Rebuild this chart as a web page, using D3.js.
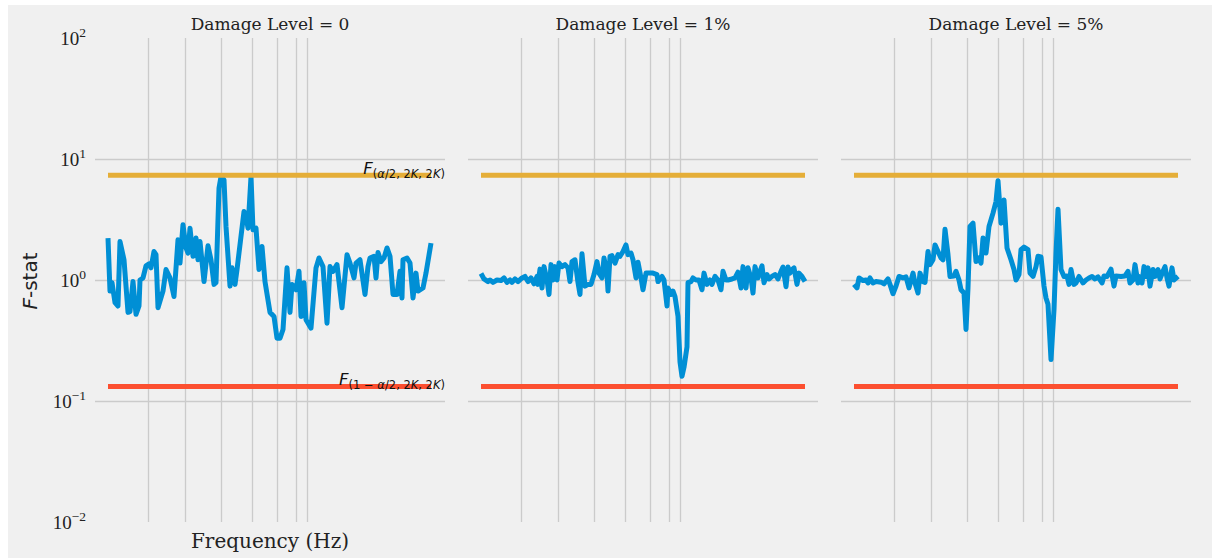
<!DOCTYPE html>
<html>
<head>
<meta charset="utf-8">
<script src="https://cdn.jsdelivr.net/npm/d3@7"></script>
<style>
  body { margin: 0; background: #ffffff; }
  .grid line { stroke: #cbcbcb; stroke-width: 1.3; }
  .grid path { display: none; }
</style>
</head>
<body>
<script>
// panel titles
const panelTitles = ["Damage Level = 0", "Damage Level = 1%", "Damage Level = 5%"];

// [frequency (Hz), F-stat]
const damage0 = [[0,2.22],[2,0.81],[4,0.95],[7,0.65],[10,0.61],[12,2.08],[16,1.47],[20,0.54],[22,0.55],[25,0.97],[28,0.52],[31,0.61],[32,1.0],[35,1.04],[38,1.31],[41,1.36],[43,1.26],[46,1.72],[48,1.62],[50,0.59],[55,0.81],[58,1.22],[62,1.04],[66,0.73],[70,2.15],[72,1.38],[75,2.86],[78,1.84],[80,1.67],[82,2.68],[85,1.57],[88,2.22],[90,1.47],[92,2.08],[96,0.97],[100,1.92],[103,1.47],[106,0.92],[108,0.95],[111,5.73],[113,7.15],[116,6.71],[118,2.77],[122,0.89],[124,1.26],[127,0.92],[129,1.22],[136,3.68],[138,3.34],[140,2.68],[143,7.15],[145,2.6],[148,2.68],[151,1.22],[154,1.89],[157,0.97],[162,0.54],[166,0.5],[169,0.33],[172,0.33],[175,0.39],[179,1.26],[182,0.54],[184,0.92],[188,0.83],[191,1.18],[193,0.5],[196,0.95],[198,0.47],[203,0.4],[208,1.26],[211,1.52],[215,1.29],[219,0.44],[222,1.29],[225,1.18],[229,1.34],[234,0.59],[239,1.62],[242,1.38],[246,1.04],[248,1.38],[252,1.47],[257,0.76],[260,1.29],[262,1.52],[266,1.57],[268,1.04],[270,1.69],[273,1.42],[276,1.52],[279,1.84],[282,1.57],[285,0.76],[289,0.76],[292,1.18],[294,0.71],[295,1.47],[299,1.52],[302,1.38],[305,0.71],[308,1.14],[310,0.81],[315,0.86],[318,1.14],[323,2.02]];

const damage1 = [[0,1.13],[3,1.02],[7,0.97],[9,1.0],[12,0.955],[16,1.0],[20,0.99],[23,1.04],[26,0.955],[29,1.0],[31,0.955],[34,1.02],[37,0.97],[41,1.04],[44,1.07],[47,0.97],[50,1.04],[53,0.93],[56,1.07],[57,0.92],[59,1.23],[61,0.86],[63,1.29],[66,1.0],[68,0.76],[70,1.34],[72,1.0],[74,1.29],[76,1.0],[78,1.38],[81,1.29],[84,1.34],[87,1.26],[89,0.97],[91,1.42],[94,1.47],[97,0.95],[99,0.76],[101,1.65],[104,0.89],[107,0.92],[110,0.92],[113,1.11],[116,1.42],[118,1.14],[121,1.04],[123,1.52],[126,1.14],[127,0.81],[129,1.57],[131,1.59],[134,1.38],[137,1.62],[139,1.57],[142,1.72],[145,1.95],[147,1.62],[150,1.67],[152,1.47],[155,1.04],[157,1.4],[160,1.04],[162,0.83],[165,1.14],[168,1.14],[172,1.14],[176,1.11],[177,0.97],[181,1.07],[183,1.0],[186,0.61],[187,0.86],[190,0.76],[192,0.81],[194,0.73],[197,0.5],[199,0.21],[201,0.16],[203,0.19],[206,0.28],[207,0.95],[210,0.97],[212,1.04],[215,1.0],[218,1.0],[221,0.83],[223,1.14],[226,0.92],[229,1.0],[231,0.92],[234,1.07],[237,1.0],[240,0.83],[242,1.18],[245,1.0],[247,1.0],[251,1.02],[254,1.04],[257,1.16],[260,0.86],[262,1.29],[265,0.86],[267,1.26],[270,1.04],[272,0.78],[274,1.29],[277,1.04],[279,1.18],[281,1.31],[283,0.95],[286,1.11],[288,1.02],[291,1.07],[294,1.11],[297,1.02],[300,1.18],[302,1.28],[305,0.88],[307,1.28],[309,1.14],[311,1.22],[313,1.26],[316,0.92],[318,1.14],[321,1.07],[324,0.97]];

const damage5 = [[0,0.92],[3,0.86],[5,1.04],[9,0.99],[12,1.0],[14,0.945],[16,1.04],[19,0.945],[22,0.97],[27,0.96],[30,0.93],[34,1.02],[36,0.92],[39,0.77],[42,0.89],[45,1.07],[49,1.04],[52,1.06],[55,0.86],[59,1.14],[61,0.945],[64,0.78],[66,1.14],[69,0.97],[71,0.955],[74,1.72],[76,1.34],[79,1.47],[81,1.95],[84,1.72],[87,1.52],[89,1.47],[91,2.63],[94,1.62],[96,1.07],[100,1.08],[102,1.18],[105,1.0],[107,0.83],[110,0.78],[112,0.39],[114,0.86],[116,2.77],[119,2.95],[122,1.42],[125,1.52],[127,1.38],[129,2.22],[132,1.67],[135,2.77],[139,3.57],[142,4.45],[144,6.62],[147,2.95],[150,4.59],[153,1.84],[157,1.47],[160,1.22],[162,1.0],[165,1.11],[167,1.78],[170,1.87],[174,1.78],[176,1.14],[179,1.07],[182,1.29],[184,1.57],[187,1.55],[190,0.89],[192,0.71],[194,0.63],[197,0.22],[200,0.57],[202,1.67],[204,3.85],[207,1.22],[210,1.07],[213,1.08],[215,0.92],[217,1.22],[220,0.92],[222,0.945],[225,1.07],[229,0.945],[232,1.0],[235,1.04],[238,1.07],[241,1.02],[244,1.06],[248,0.945],[250,1.08],[253,1.07],[257,1.23],[260,0.89],[262,1.08],[267,1.07],[271,1.08],[274,1.18],[276,0.945],[279,1.0],[281,1.34],[284,0.945],[285,1.07],[288,0.945],[290,1.29],[292,1.07],[294,1.26],[296,0.89],[299,1.22],[301,1.07],[304,1.22],[306,1.02],[309,1.18],[311,1.29],[313,1.04],[315,0.89],[318,1.26],[320,1.0],[324,1.07]];

// vertical reference frequencies (Hz), no labels
const modeFreqs = [40, 77, 113, 144, 169, 188, 199];

// critical F values
const upperCrit = 7.35;
const lowerCrit = 0.132;

// y ticks
const yTickValues = [0.01, 0.1, 1, 10, 100];
const yTickExps = ["\u22122", "\u22121", "0", "1", "2"];
const yGridValues = [0.1, 1, 10];

const seriesList = [damage0, damage1, damage5];

const width = 1215, height = 559;
const panelLeft = 95, panelStep = 373, panelWidth = 350;
const blue = "#008fd5", orange = "#e5ae38", red = "#fc4f30";

const svg = d3.select("body").append("svg")
  .attr("width", width)
  .attr("height", height);

// figure background
svg.append("rect")
  .attr("x", 8).attr("y", 5)
  .attr("width", 1204).attr("height", 553)
  .attr("fill", "#f0f0f0");

const x = d3.scaleLinear().domain([-13, 337]).range([0, panelWidth]);
const y = d3.scaleLog().domain([0.01, 100]).range([522, 38]);

const line = d3.line()
  .x(d => x(d[0]))
  .y(d => y(d[1]));

seriesList.forEach((series, i) => {
  const g = svg.append("g")
    .attr("transform", `translate(${panelLeft + i * panelStep}, 0)`);

  // vertical grid
  g.append("g")
    .attr("class", "grid")
    .attr("transform", `translate(0, ${y(0.01)})`)
    .call(d3.axisBottom(x).tickValues(modeFreqs).tickSize(-(y(0.01) - y(100))).tickFormat(""));

  // horizontal grid
  g.append("g")
    .attr("class", "grid")
    .call(d3.axisLeft(y).tickValues(yGridValues).tickSize(-panelWidth).tickFormat(""));

  // data
  g.append("path")
    .datum(series)
    .attr("d", line)
    .attr("fill", "none")
    .attr("stroke", blue)
    .attr("stroke-width", 5)
    .attr("stroke-linejoin", "round");

  // critical values
  const fMin = series[0][0], fMax = series[series.length - 1][0];
  [[upperCrit, orange], [lowerCrit, red]].forEach(([v, c]) => {
    g.append("line")
      .attr("x1", x(fMin)).attr("x2", x(fMax))
      .attr("y1", y(v)).attr("y2", y(v))
      .attr("stroke", c)
      .attr("stroke-width", 5);
  });

  // title
  g.append("text")
    .attr("x", panelWidth / 2)
    .attr("y", 30)
    .attr("text-anchor", "middle")
    .attr("font-family", "DejaVu Serif")
    .attr("font-size", 17)
    .attr("fill", "#222")
    .text(panelTitles[i]);

  if (i === 0) {
    // y tick labels
    yTickValues.forEach((v, k) => {
      const t = g.append("text")
        .attr("x", -9)
        .attr("y", y(v) + 6.5)
        .attr("text-anchor", "end")
        .attr("font-family", "Liberation Serif")
        .attr("font-size", 19)
        .attr("fill", "#222");
      t.append("tspan").text("10");
      t.append("tspan")
        .attr("dy", -8)
        .attr("font-size", 13.5)
        .text(yTickExps[k]);
    });

    // x label
    g.append("text")
      .attr("x", panelWidth / 2)
      .attr("y", 548)
      .attr("text-anchor", "middle")
      .attr("font-family", "DejaVu Serif")
      .attr("font-size", 20)
      .attr("fill", "#222")
      .text("Frequency (Hz)");

    // critical value labels
    const critLabel = (v, parts) => {
      const t = g.append("text")
        .attr("x", panelWidth)
        .attr("y", y(v) - 1)
        .attr("text-anchor", "end")
        .attr("font-family", "DejaVu Sans")
        .attr("fill", "#111");
      t.append("tspan")
        .attr("font-size", 16.5)
        .attr("font-style", "italic")
        .text("F");
      parts.forEach((p, k) => {
        const s = t.append("tspan")
          .attr("font-size", 11.5)
          .attr("font-style", p[1] ? "italic" : "normal")
          .text(p[0]);
        if (k === 0) s.attr("dy", 4);
      });
    };
    critLabel(upperCrit, [["(", 0], ["\u03b1", 1], ["/2, 2", 0], ["K", 1], [", 2", 0], ["K", 1], [")", 0]]);
    critLabel(lowerCrit, [["(1 \u2212 ", 0], ["\u03b1", 1], ["/2, 2", 0], ["K", 1], [", 2", 0], ["K", 1], [")", 0]]);
  }
});

// y label
const yl = svg.append("text")
  .attr("transform", "translate(37, 281) rotate(-90)")
  .attr("text-anchor", "middle")
  .attr("font-family", "DejaVu Sans")
  .attr("font-size", 20)
  .attr("fill", "#222");
yl.append("tspan").attr("font-style", "italic").text("F");
yl.append("tspan").text("-stat");
</script>
</body>
</html>
